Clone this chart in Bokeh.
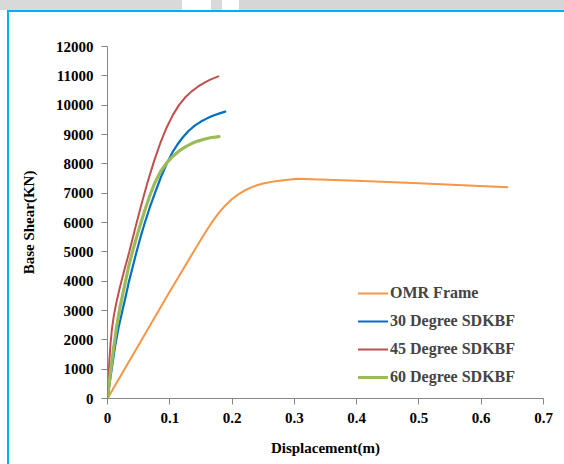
from bokeh.plotting import figure
from bokeh.models import (Legend, LegendItem, Range1d, FixedTicker,
                          NumeralTickFormatter, InlineStyleSheet, GlobalInlineStyleSheet)
from bokeh.embed import file_html
from bokeh.resources import INLINE

# ---- data ----
omr_x = [0, 0.05, 0.1, 0.15, 0.16, 0.17, 0.18, 0.19, 0.2, 0.21, 0.22, 0.23, 0.24, 0.25,
         0.27, 0.29, 0.305, 0.4, 0.5, 0.642]
omr_y = [0, 1825, 3650, 5420, 5760, 6080, 6360, 6600, 6800, 6960, 7090, 7190, 7270, 7330,
         7410, 7460, 7490, 7420, 7340, 7200]

d30_x = [0, 0.006, 0.012, 0.018, 0.024, 0.03, 0.034, 0.04, 0.046, 0.053, 0.06, 0.068, 0.077,
         0.086, 0.095, 0.104, 0.112, 0.12, 0.13, 0.14, 0.15, 0.16, 0.17, 0.18, 0.189]
d30_y = [0, 900, 1750, 2450, 3000, 3550, 3950, 4450, 4950, 5500, 6000, 6520, 7050,
         7560, 8000, 8380, 8650, 8880, 9120, 9300, 9440, 9550, 9650, 9720, 9780]

d45_x = [0, 0.001, 0.003, 0.005, 0.007, 0.01, 0.014, 0.02, 0.027, 0.035, 0.045, 0.055, 0.065,
         0.075, 0.085, 0.095, 0.105, 0.115, 0.125, 0.135, 0.145, 0.155, 0.165, 0.178]
d45_y = [0, 500, 1300, 1900, 2350, 2800, 3250, 3800, 4380, 5000, 5850, 6660, 7420,
         8110, 8720, 9240, 9670, 10010, 10270, 10470, 10630, 10760, 10870, 10980]

d60_x = [0, 0.005, 0.01, 0.015, 0.02, 0.025, 0.03, 0.035, 0.041, 0.047, 0.053, 0.06, 0.068,
         0.076, 0.085, 0.095, 0.105, 0.115, 0.125, 0.135, 0.145, 0.155, 0.165, 0.179]
d60_y = [0, 950, 1750, 2500, 3100, 3600, 4100, 4600, 5070, 5520, 5950, 6420, 6920,
         7350, 7730, 8030, 8260, 8440, 8580, 8690, 8775, 8840, 8890, 8930]

series_names = ["OMR Frame", "30 Degree SDKBF", "45 Degree SDKBF", "60 Degree SDKBF"]
series_colors = ["#F79646", "#0070C0", "#C0504D", "#9BBB59"]
series_widths = [2, 2.2, 2, 3.2]

x_ticks = [0, 0.1, 0.2, 0.3, 0.4, 0.5, 0.6, 0.7]
y_ticks = [0, 1000, 2000, 3000, 4000, 5000, 6000, 7000, 8000, 9000, 10000, 11000, 12000]

FONT = "Liberation Serif"

p = figure(width=564, height=464, output_backend="svg", toolbar_location=None,
           x_range=Range1d(0, 0.7), y_range=Range1d(0, 12000),
           min_border_left=107, min_border_right=21, min_border_top=46,
           min_border_bottom=66)
p.background_fill_color = "white"
p.border_fill_color = "white"
p.outline_line_color = None
p.xgrid.grid_line_color = None
p.ygrid.grid_line_color = None

# page decoration (grey band on top, light-blue frame lines on left/top) as overlays
p.stylesheets = [
    GlobalInlineStyleSheet(css="html, body { margin: 0; padding: 0; overflow: hidden; }"),
    InlineStyleSheet(css="""
:host { position: relative; }
:host::before {
  content: "";
  position: absolute;
  left: 0; top: 0; width: 564px; height: 10px;
  pointer-events: none;
  z-index: 100;
  background: linear-gradient(to right, #D9D9D9 182px, #FFFFFF 182px, #FFFFFF 211px,
              #D9D9D9 211px, #D9D9D9 222px, #FFFFFF 222px, #FFFFFF 239px, #D6D6D6 239px);
}
:host::after {
  content: "";
  position: absolute;
  left: 7px; top: 10px; width: 557px; height: 454px;
  box-sizing: border-box;
  pointer-events: none;
  z-index: 100;
  border-left: 2px solid #00B0F0;
  border-top: 2px solid #00B0F0;
}
""")]

renderers = []
for xs, ys, c, w in zip([omr_x, d30_x, d45_x, d60_x], [omr_y, d30_y, d45_y, d60_y],
                        series_colors, series_widths):
    r = p.line(xs, ys, line_color=c, line_width=w, line_cap="round", line_join="round")
    renderers.append(r)

for ax in (p.xaxis[0], p.yaxis[0]):
    ax.axis_line_color = "#868686"
    ax.major_tick_line_color = "#868686"
    ax.minor_tick_line_color = None
    ax.major_tick_in = 0
    ax.major_tick_out = 6
    ax.major_label_text_font = FONT
    ax.major_label_text_font_style = "bold"
    ax.major_label_text_font_size = "15px"
    ax.major_label_text_color = "black"
    ax.axis_label_text_font = FONT
    ax.axis_label_text_font_style = "bold"
    ax.axis_label_text_font_size = "15px"
    ax.axis_label_text_color = "black"

p.xaxis[0].ticker = FixedTicker(ticks=x_ticks)
p.xaxis[0].formatter = NumeralTickFormatter(format="0.[0]")
p.xaxis[0].axis_label = "Displacement(m)"
p.xaxis[0].major_label_standoff = 8
p.xaxis[0].axis_label_standoff = 14

p.yaxis[0].ticker = FixedTicker(ticks=y_ticks)
p.yaxis[0].axis_label = "Base Shear(KN)"
p.yaxis[0].major_label_standoff = 8
p.yaxis[0].axis_label_standoff = 16

legend = Legend(items=[LegendItem(label=n, renderers=[r]) for n, r in zip(series_names, renderers)],
                location=(251, 11), padding=0, spacing=8, glyph_width=30, glyph_height=20,
                label_height=20, label_standoff=2, border_line_color=None,
                background_fill_alpha=0, label_text_font=FONT,
                label_text_font_style="bold", label_text_font_size="16px")
p.add_layout(legend, "center")

open("out.html", "w").write(file_html(p, INLINE))
